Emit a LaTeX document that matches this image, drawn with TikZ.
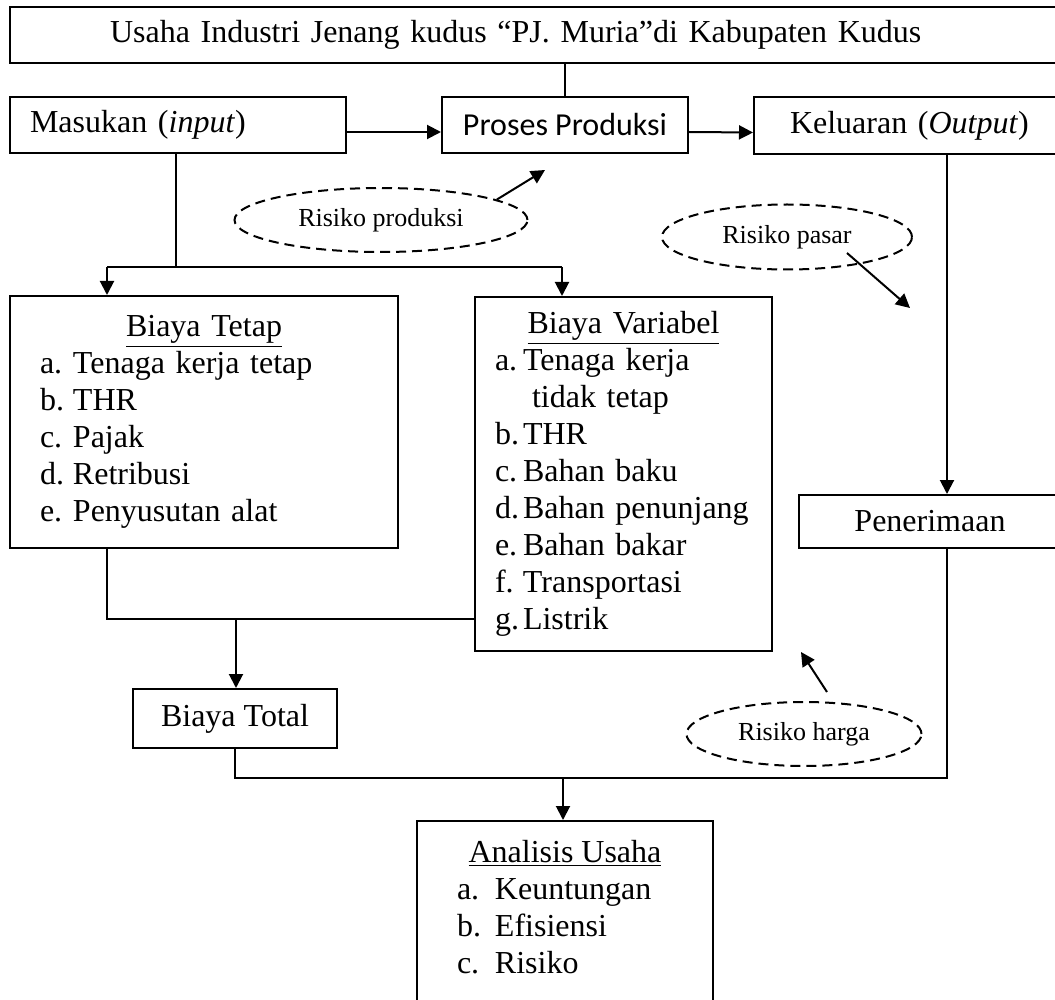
\documentclass[tikz,border=0pt]{standalone}
\usepackage{fontspec}
\setmainfont{Liberation Serif}
\newfontfamily\carlito{Carlito}
\usetikzlibrary{arrows.meta,shapes.geometric}

\newcommand{\butir}[3]{\makebox[#1][l]{#2}#3}

\begin{document}
\begin{tikzpicture}[x=0.5pt,y=-0.5pt,line width=1pt,
  kotak/.style={draw,rectangle,inner sep=0pt,font=\fontsize{16pt}{18.5pt}\selectfont},
  risiko/.style={draw,ellipse,dash pattern=on 5pt off 3pt,inner sep=0pt,font=\fontsize{13pt}{15pt}\selectfont},
  panah/.style={-{Triangle[length=7pt,width=7pt]}}]
\useasboundingbox (0,0) rectangle (1055,1000);

% kotak utama
\path (536,35) node (judul) [kotak,minimum width=526pt,minimum height=28pt,text width=426pt,align=left,inner xsep=50pt] {Usaha Industri Jenang kudus “PJ. Muria”di Kabupaten Kudus};
\path (178,125) node (masukan) [kotak,minimum width=168pt,minimum height=28pt,text width=148pt,align=left,inner xsep=10pt] {Masukan (\textit{input})};
\path (565,125) node (proses) [kotak,minimum width=123pt,minimum height=28pt] {\carlito Proses Produksi};
\path (908,125.5) node (keluaran) [kotak,minimum width=154pt,minimum height=28.5pt,text width=136pt,align=left,inner xsep=9pt] {\hspace*{9pt}Keluaran (\textit{Output})};
\path (930,521.5) node (penerimaan) [kotak,minimum width=131.5pt,minimum height=26.5pt] {Penerimaan};

% biaya
\path (204,422) node (tetap) [kotak,minimum width=194pt,minimum height=126pt,text width=164pt,align=left,inner xsep=15pt]
  {\makebox[\linewidth]{\underline{Biaya Tetap}}\\
   \butir{16.5pt}{a.}{Tenaga kerja tetap}\\
   \butir{16.5pt}{b.}{THR}\\
   \butir{16.5pt}{c.}{Pajak}\\
   \butir{16.5pt}{d.}{Retribusi}\\
   \butir{16.5pt}{e.}{Penyusutan alat}};
\path (623.5,474) node (variabel) [kotak,minimum width=148.5pt,minimum height=177pt,text width=128.5pt,align=left,inner xsep=10pt]
  {\makebox[\linewidth]{\underline{Biaya Variabel}}\\
   \butir{14pt}{a.}{Tenaga kerja}\\
   \hspace*{18.5pt}tidak tetap\\
   \butir{14pt}{b.}{THR}\\
   \butir{14pt}{c.}{Bahan baku}\\
   \butir{14pt}{d.}{Bahan penunjang}\\
   \butir{14pt}{e.}{Bahan bakar}\\
   \butir{14pt}{f.}{Transportasi}\\
   \butir{14pt}{g.}{Listrik}};
\path (235,718.5) node (total) [kotak,minimum width=102pt,minimum height=29.5pt] {Biaya Total};
\path (565,820) node (analisis) [kotak,anchor=north,inner xsep=20pt,inner ysep=9.6pt]
  {\parbox[c][120pt][t]{108pt}{\makebox[\linewidth]{\underline{Analisis Usaha}}\\
   \butir{19pt}{a.}{Keuntungan}\\
   \butir{19pt}{b.}{Efisiensi}\\
   \butir{19pt}{c.}{Risiko}}};

% risiko
\path (381,220) node (produksi) [risiko,minimum width=146.5pt,minimum height=32pt] {Risiko produksi};
\path (787,237) node (pasar) [risiko,minimum width=125pt,minimum height=32.5pt] {Risiko pasar};
\path (804,734) node (harga) [risiko,minimum width=117.5pt,minimum height=32pt] {Risiko harga};

\coordinate (p1) at (545,170);
\coordinate (q0) at (847,253);
\coordinate (q1) at (910,308);
\coordinate (r0) at (827,692);
\coordinate (r1) at (801,652);
\draw [panah] (produksi.10) -- (p1);
\draw [panah] (q0) -- (q1);
\draw [panah] (r0) -- (r1);

% garis penghubung
\coordinate (masuk) at (176,267);
\coordinate (kiri) at (107,267);
\coordinate (kanan) at (562,267);
\coordinate (gabung) at (107,619);
\coordinate (tengah) at (236,619);
\coordinate (terima) at (947,778);
\coordinate (akhir) at (563,778);

\draw (judul.south -| proses.north) -- (proses.north);
\draw [panah] ([yshift=-3.5pt]masukan.east) -- ([yshift=-3.5pt]proses.west);
\draw [panah] ([yshift=-3.5pt]proses.east) -- ([yshift=-3.5pt]keluaran.west);
\draw (masukan.south -| masuk) -- (masuk);
\draw (kiri) -- (kanan);
\draw [panah] (kiri) -- (kiri |- tetap.north);
\draw [panah] (kanan) -- (kanan |- variabel.north);
\draw (tetap.south -| gabung) -- (gabung) -- (gabung -| variabel.west);
\draw [panah] (tengah) -- (tengah |- total.north);
\draw (total.south) -- (total.south |- terima) -- (terima) -- (terima |- penerimaan.south);
\draw [panah] (keluaran.south -| terima) -- (terima |- penerimaan.north);
\draw [panah] (akhir) -- (akhir |- analisis.north);
\end{tikzpicture}
\end{document}
